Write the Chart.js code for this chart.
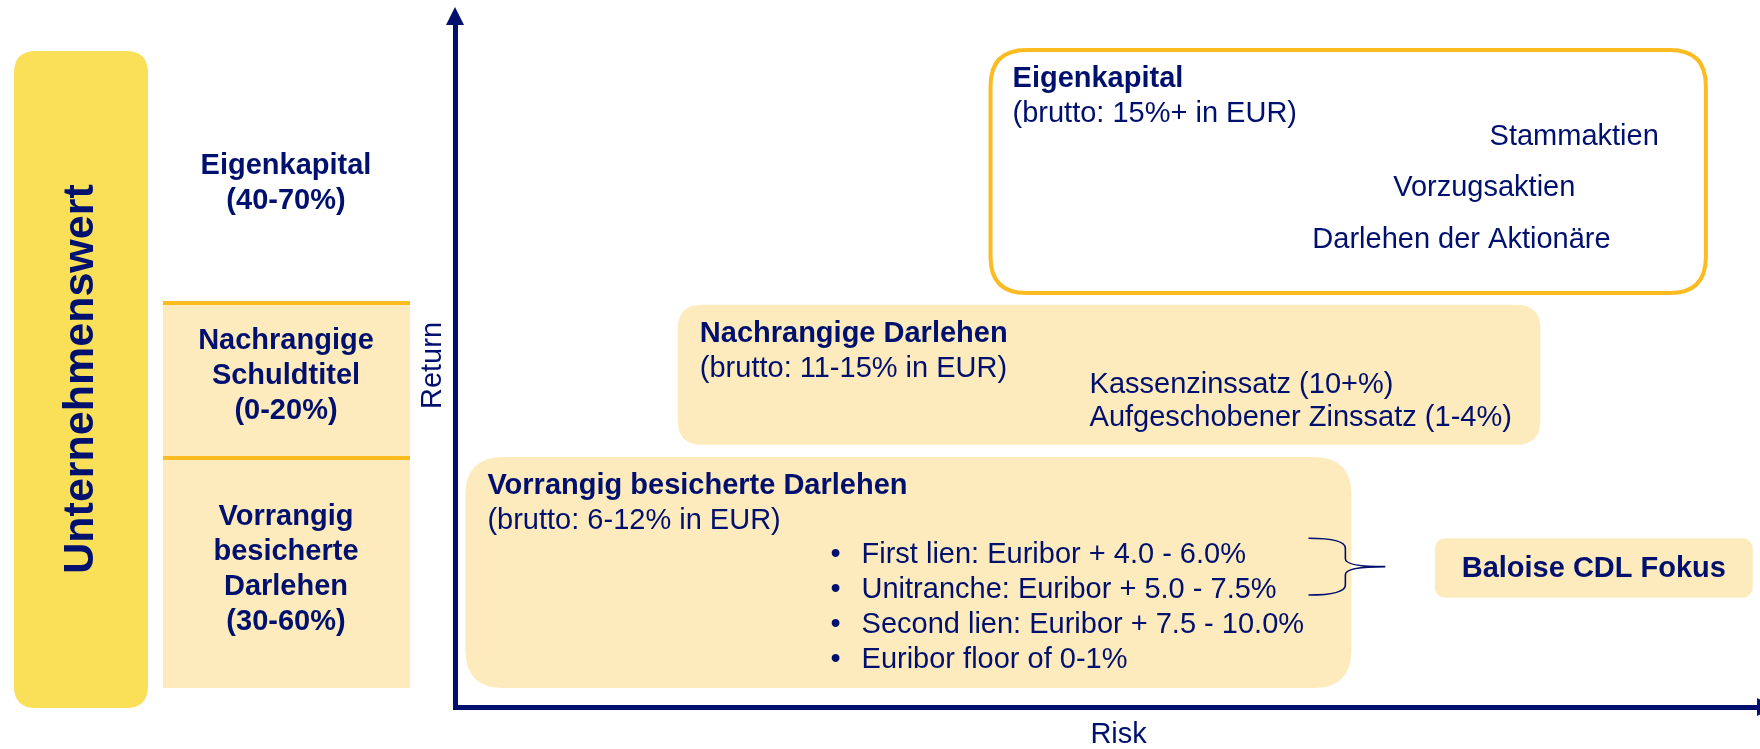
<!DOCTYPE html>
<html>
<head>
<meta charset="utf-8">
<script src="https://cdn.jsdelivr.net/npm/chart.js@4.4.1/dist/chart.umd.min.js"></script>
<style>
  html, body { margin: 0; padding: 0; background: #fff; overflow: hidden; }
  canvas { display: block; }
</style>
</head>
<body>
<canvas id="diagram" width="1760" height="749"></canvas>
<script>
// Capital structure (left column)
const capitalLayers = [['Vorrangig', 'besicherte', 'Darlehen'], ['Nachrangige', 'Schuldtitel'], ['Eigenkapital']];
const capitalShares = ['(30-60%)', '(0-20%)', '(40-70%)'];
const valueLabel = 'Unternehmenswert';

// Risk / return boxes (risk 0-100 on x, return 0-100 on y)
const tiers = ['Vorrangig besicherte Darlehen', 'Nachrangige Darlehen', 'Eigenkapital'];
const tierReturns = ['(brutto: 6-12% in EUR)', '(brutto: 11-15% in EUR)', '(brutto: 15%+ in EUR)'];
const riskFrom = [0.8, 17.1, 41.1];
const riskTo = [68.8, 83.3, 96.0];
const returnFrom = [2.8, 38.4, 60.6];
const returnTo = [36.6, 58.9, 96.2];

// Instruments inside each box
const itemLabels = [
  ['First lien: Euribor + 4.0 - 6.0%', 'Unitranche: Euribor + 5.0 - 7.5%', 'Second lien: Euribor + 7.5 - 10.0%', 'Euribor floor of 0-1%'],
  ['Kassenzinssatz (10+%)', 'Aufgeschobener Zinssatz (1-4%)'],
  ['Stammaktien', 'Vorzugsaktien', 'Darlehen der Aktionäre']
];
const itemRisk = [[31.2, 31.2, 31.2, 31.2], [48.7, 48.7], [79.4, 72.0, 65.8]];
const itemReturn = [[22.3, 17.1, 12.0, 6.9], [47.1, 42.3], [83.5, 76.0, 68.4]];

// Fund focus
const focusLabel = 'Baloise CDL Fokus';
const focusRisk = [75.2, 99.6];
const focusReturn = [16.0, 24.7];
const braceRisk = [65.5, 71.4];
const braceReturn = [16.4, 24.7];

const navy = '#00106e';
const cream = '#fdebbd';
const gold = '#fadf58';
const amber = '#fdbb22';
const FONT = '"Liberation Sans", Arial, sans-serif';

function roundRect(ctx, x, y, w, h, r) {
  ctx.beginPath();
  ctx.moveTo(x + r, y);
  ctx.lineTo(x + w - r, y);
  ctx.quadraticCurveTo(x + w, y, x + w, y + r);
  ctx.lineTo(x + w, y + h - r);
  ctx.quadraticCurveTo(x + w, y + h, x + w - r, y + h);
  ctx.lineTo(x + r, y + h);
  ctx.quadraticCurveTo(x, y + h, x, y + h - r);
  ctx.lineTo(x, y + r);
  ctx.quadraticCurveTo(x, y, x + r, y);
  ctx.closePath();
}

const diagramPlugin = {
  id: 'diagram',
  afterDraw(chart) {
    const { ctx, chartArea, scales: { x, y } } = chart;
    ctx.save();

    // left column: company value bar
    roundRect(ctx, 14, 51, 134, 657, 22);
    ctx.fillStyle = gold;
    ctx.fill();
    ctx.save();
    ctx.translate(81, 379);
    ctx.rotate(-Math.PI / 2);
    ctx.fillStyle = navy;
    ctx.font = 'bold 43px ' + FONT;
    ctx.textAlign = 'center';
    ctx.textBaseline = 'middle';
    ctx.fillText(valueLabel, 0, 0);
    ctx.restore();

    // left column: capital layers
    ctx.fillStyle = cream;
    ctx.fillRect(163, 303, 247, 385);
    ctx.strokeStyle = amber;
    ctx.lineWidth = 4;
    [303, 458].forEach(ly => {
      ctx.beginPath();
      ctx.moveTo(163, ly);
      ctx.lineTo(410, ly);
      ctx.stroke();
    });
    const layerCenters = [569, 376, 183];
    ctx.fillStyle = navy;
    ctx.font = 'bold 29px ' + FONT;
    ctx.textAlign = 'center';
    ctx.textBaseline = 'middle';
    capitalLayers.forEach((lines, i) => {
      const all = lines.concat([capitalShares[i]]);
      const top = layerCenters[i] - (all.length - 1) * 35 / 2;
      all.forEach((t, j) => ctx.fillText(t, 286, top + j * 35));
    });

    // axis arrows
    ctx.fillStyle = navy;
    const ax = chartArea.left;
    ctx.beginPath();
    ctx.moveTo(ax - 9, chartArea.top + 1);
    ctx.lineTo(ax + 9, chartArea.top + 1);
    ctx.lineTo(ax, chartArea.top - 17);
    ctx.closePath();
    ctx.fill();
    const ay = chartArea.bottom;
    ctx.beginPath();
    ctx.moveTo(chartArea.right - 1, ay - 9);
    ctx.lineTo(chartArea.right - 1, ay + 9);
    ctx.lineTo(chartArea.right + 17, ay);
    ctx.closePath();
    ctx.fill();

    // risk / return boxes
    const radii = [38, 24, 36];
    tiers.forEach((name, i) => {
      const l = x.getPixelForValue(riskFrom[i]);
      const r = x.getPixelForValue(riskTo[i]);
      const t = y.getPixelForValue(returnTo[i]);
      const b = y.getPixelForValue(returnFrom[i]);
      roundRect(ctx, l, t, r - l, b - t, radii[i]);
      if (i === 2) {
        ctx.fillStyle = '#fff';
        ctx.fill();
        ctx.strokeStyle = amber;
        ctx.lineWidth = 4;
        ctx.stroke();
      } else {
        ctx.fillStyle = cream;
        ctx.fill();
      }
      ctx.fillStyle = navy;
      ctx.textAlign = 'left';
      ctx.textBaseline = 'middle';
      ctx.font = 'bold 29px ' + FONT;
      ctx.fillText(name, l + 22, t + 29);
      ctx.font = '29px ' + FONT;
      ctx.fillText(tierReturns[i], l + 22, t + 64);
      itemLabels[i].forEach((label, j) => {
        const px = x.getPixelForValue(itemRisk[i][j]);
        const py = y.getPixelForValue(itemReturn[i][j]);
        if (i === 0) ctx.fillText('\u2022', px - 31, py);
        ctx.fillText(label, px, py);
      });
    });

    // brace linking first lien / unitranche to the fund focus
    const x0 = x.getPixelForValue(braceRisk[0]);
    const x1 = x.getPixelForValue(braceRisk[1]);
    const yt = y.getPixelForValue(braceReturn[1]);
    const yb = y.getPixelForValue(braceReturn[0]);
    const xs = x0 + (x1 - x0) * 0.48;
    const mid = (yt + yb) / 2;
    ctx.strokeStyle = navy;
    ctx.lineWidth = 1.6;
    ctx.beginPath();
    ctx.moveTo(x0, yt);
    ctx.quadraticCurveTo(xs, yt, xs, yt + 10);
    ctx.lineTo(xs, mid - 8);
    ctx.quadraticCurveTo(xs, mid, x1, mid);
    ctx.quadraticCurveTo(xs, mid, xs, mid + 8);
    ctx.lineTo(xs, yb - 10);
    ctx.quadraticCurveTo(xs, yb, x0, yb);
    ctx.stroke();

    // fund focus box
    const fl = x.getPixelForValue(focusRisk[0]);
    const fr = x.getPixelForValue(focusRisk[1]);
    const ft = y.getPixelForValue(focusReturn[1]);
    const fb = y.getPixelForValue(focusReturn[0]);
    roundRect(ctx, fl, ft, fr - fl, fb - ft, 12);
    ctx.fillStyle = cream;
    ctx.fill();
    ctx.fillStyle = navy;
    ctx.font = 'bold 29px ' + FONT;
    ctx.textAlign = 'center';
    ctx.fillText(focusLabel, (fl + fr) / 2, (ft + fb) / 2 + 1);

    ctx.restore();
  }
};

const axisTitle = (text, padding) => ({
  display: true,
  text,
  color: navy,
  font: { family: FONT, size: 29, lineHeight: 1 },
  padding
});

new Chart(document.getElementById('diagram'), {
  type: 'scatter',
  data: { datasets: [] },
  options: {
    responsive: false,
    animation: false,
    layout: { padding: { left: 414.5, top: 24, right: 2, bottom: 0 } },
    plugins: { legend: { display: false }, tooltip: { enabled: false } },
    scales: {
      x: {
        type: 'linear', min: 0, max: 100,
        ticks: { display: false },
        grid: { display: false, drawTicks: false },
        border: { color: navy, width: 5 },
        // leading spaces nudge the centred title right, as in the original
        title: axisTitle('   Risk', { top: 13, bottom: 0 })
      },
      y: {
        type: 'linear', min: 0, max: 100,
        ticks: { display: false },
        grid: { display: false, drawTicks: false },
        border: { color: navy, width: 5 },
        title: axisTitle('Return', { top: 4, bottom: 7.5 })
      }
    }
  },
  plugins: [diagramPlugin]
});
</script>
</body>
</html>
